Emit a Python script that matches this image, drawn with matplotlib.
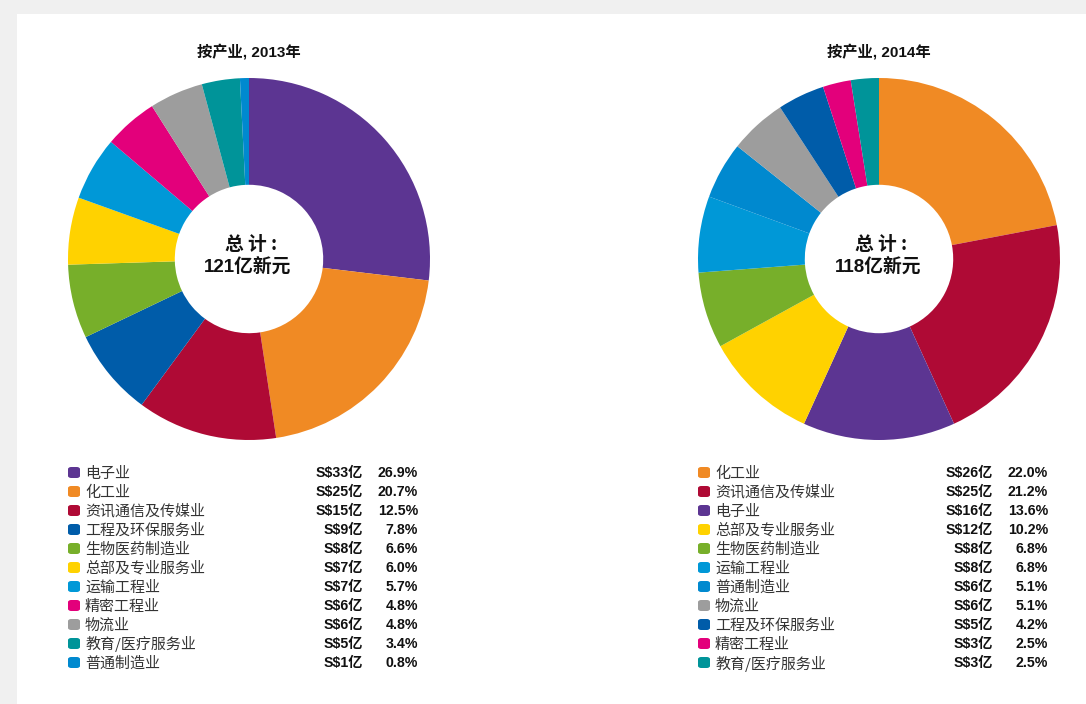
import matplotlib
matplotlib.use("Agg")
import matplotlib.pyplot as plt
from matplotlib.patches import Rectangle, FancyBboxPatch

W, H = 1086, 704

# ---- data ----
labels_2013 = ["电子业", "化工业", "资讯通信及传媒业", "工程及环保服务业", "生物医药制造业",
               "总部及专业服务业", "运输工程业", "精密工程业", "物流业", "教育/医疗服务业", "普通制造业"]
values_2013 = ["S$33亿", "S$25亿", "S$15亿", "S$9亿", "S$8亿", "S$7亿", "S$7亿", "S$6亿", "S$6亿", "S$5亿", "S$1亿"]
pct_2013 = [26.9, 20.7, 12.5, 7.8, 6.6, 6.0, 5.7, 4.8, 4.8, 3.4, 0.8]

labels_2014 = ["化工业", "资讯通信及传媒业", "电子业", "总部及专业服务业", "生物医药制造业",
               "运输工程业", "普通制造业", "物流业", "工程及环保服务业", "精密工程业", "教育/医疗服务业"]
values_2014 = ["S$26亿", "S$25亿", "S$16亿", "S$12亿", "S$8亿", "S$8亿", "S$6亿", "S$6亿", "S$5亿", "S$3亿", "S$3亿"]
pct_2014 = [22.0, 21.2, 13.6, 10.2, 6.8, 6.8, 5.1, 5.1, 4.2, 2.5, 2.5]

titles = ["按产业, 2013年", "按产业, 2014年"]
totals = ["121亿新元", "118亿新元"]

colors_map = {
    "电子业": "#5C3592",
    "化工业": "#F08A24",
    "资讯通信及传媒业": "#AF0A35",
    "工程及环保服务业": "#005CA9",
    "生物医药制造业": "#77AF2A",
    "总部及专业服务业": "#FFD200",
    "运输工程业": "#0098D7",
    "精密工程业": "#E3007B",
    "物流业": "#9D9D9D",
    "教育/医疗服务业": "#009499",
    "普通制造业": "#0089CF",
}

fig = plt.figure(figsize=(W / 100, H / 100), dpi=100)
fig.patch.set_facecolor("#F0F0F0")
fig.patches.append(Rectangle((17 / W, 0), 1, 1 - 14 / H, transform=fig.transFigure,
                             facecolor="white", edgecolor="none", zorder=-5))


def fx(x):
    return x / W


def fy(y):
    return 1 - y / H


cjk = ["Noto Sans CJK SC", "DejaVu Sans"]
num = ["Liberation Sans Narrow", "Liberation Sans", "Noto Sans CJK SC"]

panels = [
    (labels_2013, values_2013, pct_2013, 249, 259),
    (labels_2014, values_2014, pct_2014, 879, 259),
]
legend_x = [68, 698]
val_x = [363, 993]
pct_x = [418, 1048]

for i, (labs, vals, pcts, cx, cy) in enumerate(panels):
    r = 181
    ax = fig.add_axes([fx(cx - r), fy(cy + r), (2 * r) / W, (2 * r) / H], zorder=1)
    ax.pie(pcts, colors=[colors_map[l] for l in labs], startangle=90, counterclock=False,
           radius=1, wedgeprops=dict(width=0.59, linewidth=0))
    ax.set_xlim(-1, 1)
    ax.set_ylim(-1, 1)
    ax.set_aspect("equal")
    ax.axis("off")
    ax.patch.set_alpha(0)

    fig.text(fx(cx), fy(52), titles[i], ha="center", va="center", fontsize=11,
             fontweight="bold", family=["Liberation Sans", "Noto Sans CJK SC"],
             color="#111111", zorder=3)
    fig.text(fx(cx + 2), fy(245), "总 计 :", ha="center", va="center", fontsize=13.5,
             fontweight="bold", family=cjk, color="#111111", zorder=3)
    fig.text(fx(cx - 1), fy(268), totals[i], ha="center", va="center", fontsize=13.5,
             fontweight="bold", family=["Liberation Sans", "Noto Sans CJK SC"], color="#111111",
             zorder=3)

    for j, (l, v, p) in enumerate(zip(labs, vals, pcts)):
        y = 472 + 19 * j
        lx = legend_x[i]
        fig.patches.append(FancyBboxPatch((fx(lx), fy(y + 6)), 12 / W, 11 / H,
                                          boxstyle="round,pad=0,rounding_size=0.003",
                                          transform=fig.transFigure,
                                          facecolor=colors_map[l], edgecolor="none"))
        fig.text(fx(lx + 17), fy(y + 1.5), l, ha="left", va="center", fontsize=10.8,
                 family=cjk, color="#333333")
        fig.text(fx(val_x[i]), fy(y + 1), v, ha="right", va="center", fontsize=10.2,
                 fontweight="bold", family=num, color="#111111")
        fig.text(fx(pct_x[i]), fy(y + 1), f"{p:.1f}%", ha="right", va="center", fontsize=10.2,
                 fontweight="bold", family=num, color="#111111")

fig.savefig("out.png", dpi=100, facecolor=fig.get_facecolor())
